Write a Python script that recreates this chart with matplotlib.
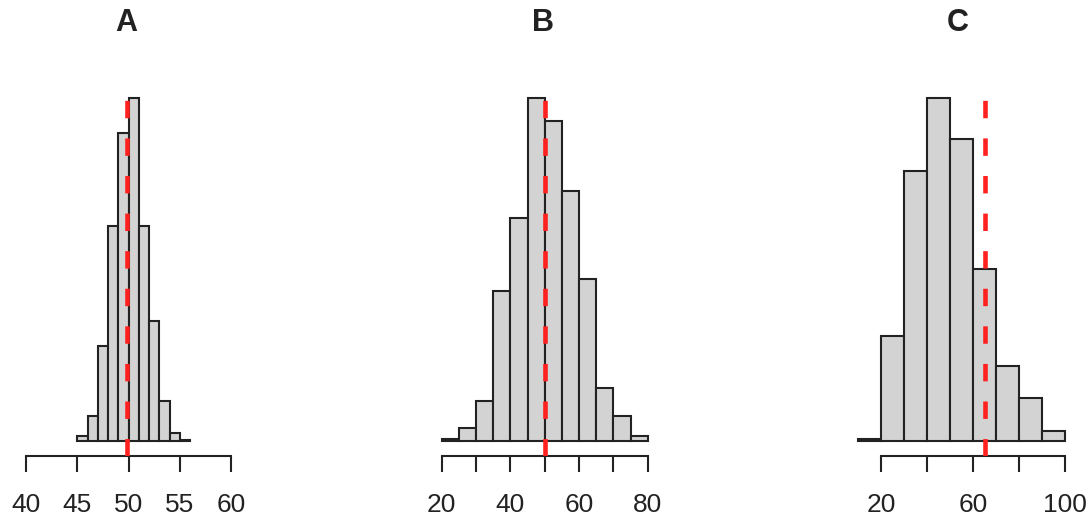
import matplotlib.pyplot as plt
import numpy as np

plt.rcParams['font.family'] = ['Liberation Sans', 'DejaVu Sans']

# panel titles
titles = ['A', 'B', 'C']

# histogram bins (start, width) and bar heights
a_start, a_width = 45, 1
a_counts = [5, 25, 95, 215, 308, 343, 215, 120, 40, 8, 1]
a_mean = 49.85
a_ticks = [40, 45, 50, 55, 60]
a_labels = ['40', '45', '50', '55', '60']

b_start, b_width = 20, 5
b_counts = [2, 13, 40, 150, 223, 343, 320, 250, 162, 53, 25, 5]
b_mean = 50
b_ticks = [20, 30, 40, 50, 60, 70, 80]
b_labels = ['20', '', '40', '', '60', '', '80']

c_start, c_width = 10, 10
c_counts = [2, 105, 270, 343, 302, 172, 75, 43, 10]
c_mean = 65
c_ticks = [20, 40, 60, 80, 100]
c_labels = ['20', '', '60', '', '100']

W, H = 1089, 521
fig = plt.figure(figsize=(W / 100, H / 100), dpi=100)

# pixel boxes of each plot region: left, right, x-range shown
boxes = [(17.8, 239.2, 39.2, 60.8),
         (433.5, 656.0, 17.6, 82.4),
         (849.7, 1073.3, 6.4, 103.6)]
title_x = [126, 543, 958]
top_px, bottom_px, base_px = 84, 456, 441

panels = [(a_start, a_width, a_counts, a_mean, a_ticks, a_labels),
          (b_start, b_width, b_counts, b_mean, b_ticks, b_labels),
          (c_start, c_width, c_counts, c_mean, c_ticks, c_labels)]

for (l, r, x0, x1), (start, width, counts, mean, ticks, labels), title, tx in zip(boxes, panels, titles, title_x):
    ax = fig.add_axes([l / W, 1 - bottom_px / H, (r - l) / W, (bottom_px - top_px) / H])
    counts = np.array(counts, dtype=float)
    lefts = start + width * np.arange(len(counts))
    ax.bar(lefts, counts, width=width, align='edge', color='#d3d3d3',
           edgecolor='#222222', linewidth=1.5)

    #map the baseline and max bar to the same pixel rows as the reference
    M = counts.max()
    per_px = M / (base_px - 98)
    ax.set_ylim(-(bottom_px - base_px) * per_px, (base_px - top_px) * per_px)
    ax.set_xlim(x0, x1)

    ax.axvline(mean, color='#ff2020', linewidth=3.3, linestyle=(0, (3.8, 4.4)), zorder=3)

    for s in ['left', 'top', 'right']:
        ax.spines[s].set_visible(False)
    ax.spines['bottom'].set_bounds(ticks[0], ticks[-1])
    ax.spines['bottom'].set_linewidth(1.5)
    ax.spines['bottom'].set_color('#222222')
    ax.set_yticks([])
    ax.set_xticks(ticks)
    ax.set_xticklabels(labels)
    ax.tick_params(axis='x', direction='out', length=11.5, width=1.5, color='#222222',
                   labelsize=19, pad=15, labelcolor='#222222')

    fig.text(tx / W, 1 - 23 / H, title, ha='center', va='center',
             fontsize=22, fontweight='bold', color='#222222')

fig.savefig('out.png', dpi=100)
